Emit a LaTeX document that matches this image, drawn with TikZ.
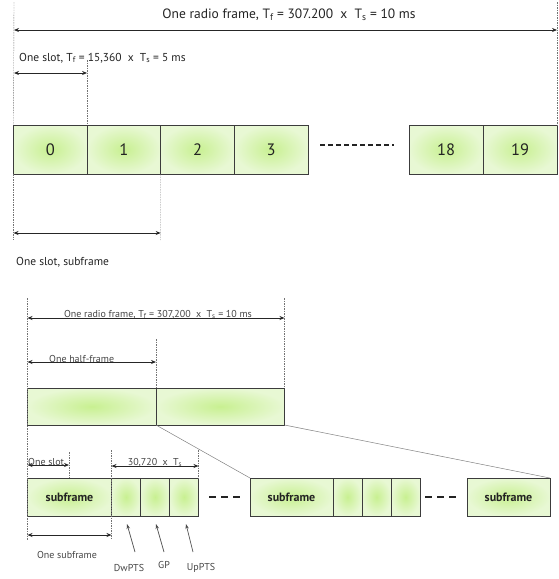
\documentclass[tikz,border=0pt]{standalone}
\usepackage{fontspec}
\setmainfont{PT Sans}
\usetikzlibrary{arrows.meta}

\definecolor{boxin}{RGB}{200,240,145}
\definecolor{boxout}{RGB}{232,248,212}
\definecolor{edge}{RGB}{60,60,60}
\definecolor{ink}{RGB}{35,35,35}
\definecolor{softink}{RGB}{70,70,70}

\tikzset{
  cell/.style={draw=edge, line width=0.7pt, inner color=boxin, outer color=boxout,
               inner sep=0pt, outer sep=0pt, anchor=north west, text=ink},
  span/.style={{Stealth[length=5pt,width=4pt]}-{Stealth[length=5pt,width=4pt]},
               line width=0.8pt, draw=black!85},
  guide/.style={line width=0.4pt, draw=black!55, dash pattern=on 1.5pt off 1pt},
  pointer/.style={-{Stealth[length=5pt,width=3.5pt]}, line width=0.7pt, draw=black!70},
  fold/.style={line width=0.5pt, draw=black!50},
  ellipsis/.style={draw=ink, line width=1.1pt, dash pattern=on 5pt off 3pt},
  bigellipsis/.style={draw=ink, line width=2pt, dash pattern=on 7pt off 5pt},
  title/.style={text=ink, font=\fontsize{13.5}{16}\selectfont, inner sep=1pt},
  label/.style={text=ink, font=\fontsize{11.5}{13}\selectfont, inner sep=1pt},
  small/.style={text=softink, font=\fontsize{10}{12}\selectfont, inner sep=1pt},
  num/.style={font=\fontsize{16.5}{18}\selectfont},
  sub/.style={font=\bfseries\fontsize{12}{14}\selectfont},
}

\begin{document}
\begin{tikzpicture}[x=1pt,y=-1pt]
\useasboundingbox (0,0) rectangle (558,579);

% ---------- upper diagram: twenty slots ----------
\node[cell, num, minimum width=73.6pt, minimum height=49pt] (s0) at (13.5,125) {0};
\node[cell, num, minimum width=73.6pt, minimum height=49pt] (s1) at (s0.north east) {1};
\node[cell, num, minimum width=73.6pt, minimum height=49pt] (s2) at (s1.north east) {2};
\node[cell, num, minimum width=73.6pt, minimum height=49pt] (s3) at (s2.north east) {3};
\node[cell, num, minimum width=74pt, minimum height=49pt] (s18) at (409,125) {18};
\node[cell, num, minimum width=74pt, minimum height=49pt] (s19) at (s18.north east) {19};

\coordinate (e1) at (320,145);
\coordinate (e2) at (394,145);
\draw[ellipsis] (e1) -- (e2);

% guide lines
\coordinate (gL) at (14,2);
\coordinate (gR) at (557,2);
\coordinate (gS) at (87.1,60);
\coordinate (gLb) at (13.5,240);
\coordinate (gMb) at (160.7,240);
\draw[guide] (gL) -- (s0.north west);
\draw[guide] (gR) -- (s19.north east);
\draw[guide] (gS) -- (s0.north east);
\draw[guide] (s0.south west) -- (gLb);
\draw[guide] (s1.south east) -- (gMb);

% spans
\coordinate (fA) at (14,30);
\coordinate (fB) at (557,30);
\draw[span] (fA) -- (fB);
\node[title] (ftxt) at (289,15) {One radio frame, T\textsubscript{f} = 307.200 \ x \ T\textsubscript{s} = 10 ms};

\coordinate (sA) at (14,73);
\coordinate (sB) at (87.1,73);
\draw[span] (sA) -- (sB);
\node[label, anchor=west] (stxt) at (18,58) {One slot, T\textsubscript{f} = 15,360 \ x \ T\textsubscript{s} = 5 ms};

\coordinate (bA) at (13.5,233);
\coordinate (bB) at (160.7,233);
\draw[span] (bA) -- (bB);
\node[label, anchor=west] (btxt) at (15,262) {One slot, subframe};

% ---------- lower diagram: half-frames and subframes ----------
\node[cell, minimum width=128.5pt, minimum height=37pt] (h1) at (27.5,388) {};
\node[cell, minimum width=128.5pt, minimum height=37pt] (h2) at (h1.north east) {};

\node[cell, sub, minimum width=84pt, minimum height=38pt] (f1) at (27.5,478) {subframe};
\node[cell, minimum width=29pt, minimum height=38pt] (p1) at (f1.north east) {};
\node[cell, minimum width=29pt, minimum height=38pt] (p2) at (p1.north east) {};
\node[cell, minimum width=29pt, minimum height=38pt] (p3) at (p2.north east) {};

\node[cell, sub, minimum width=83pt, minimum height=38pt] (f2) at (250,478) {subframe};
\node[cell, minimum width=29pt, minimum height=38pt] (q1) at (f2.north east) {};
\node[cell, minimum width=29pt, minimum height=38pt] (q2) at (q1.north east) {};
\node[cell, minimum width=29pt, minimum height=38pt] (q3) at (q2.north east) {};

\node[cell, sub, minimum width=83pt, minimum height=38pt] (f3) at (467,478) {subframe};

\coordinate (d1) at (209,497);
\coordinate (d2) at (241,497);
\coordinate (d3) at (425,497);
\coordinate (d4) at (457,497);
\draw[bigellipsis] (d1) -- (d2);
\draw[bigellipsis] (d3) -- (d4);

% expansion of the second half-frame
\draw[fold] (h1.south east) -- (f2.north west);
\draw[fold] (h2.south east) -- (f3.north east);

% guide lines
\coordinate (kL) at (27.5,298);
\coordinate (kR) at (284.5,298);
\coordinate (kM) at (156,339);
\coordinate (kLb) at (27.5,540);
\coordinate (kS) at (69,452);
\coordinate (kSb) at (69,478);
\coordinate (kP) at (111.5,450);
\coordinate (kPb) at (111.5,540);
\coordinate (kQ) at (198.5,450);
\draw[guide] (kL) -- (kLb);
\draw[guide] (kR) -- (h2.north east);
\draw[guide] (kM) -- (h1.north east);
\draw[guide] (kS) -- (kSb);
\draw[guide] (kP) -- (kPb);
\draw[guide] (kQ) -- (p3.north east);

% spans
\coordinate (rA) at (27.5,318);
\coordinate (rB) at (284.5,318);
\draw[span] (rA) -- (rB);
\node[small, anchor=south] (rtxt) at (158,320) {One radio frame, T\textsubscript{f} = 307,200 \ x \ T\textsubscript{s} = 10 ms};

\coordinate (hA) at (27.5,362);
\coordinate (hB) at (156,362);
\draw[span] (hA) -- (hB);
\node[small, anchor=south west] (htxt) at (48,364) {One half-frame};

\coordinate (oA) at (27.5,465);
\coordinate (oB) at (69,465);
\draw[span] (oA) -- (oB);
\node[small, anchor=south west] (otxt) at (27,467) {One slot};

\coordinate (tA) at (111.5,466);
\coordinate (tB) at (198.5,466);
\draw[span] (tA) -- (tB);
\node[small, anchor=south] (ttxt) at (155,468) {30,720 \ x \ T\textsubscript{s}};

\coordinate (uA) at (27.5,535);
\coordinate (uB) at (111.5,535);
\draw[span] (uA) -- (uB);
\node[small] (utxt) at (67,555) {One subframe};

% special-subframe fields
\node[small] (dw) at (129,568) {DwPTS};
\node[small] (gp) at (164,565) {GP};
\node[small] (up) at (201,568) {UpPTS};
\coordinate (dwT) at (135,552);
\coordinate (gpT) at (164,552);
\coordinate (upT) at (193,552);
\coordinate (dwH) at (127,524);
\coordinate (gpH) at (156,524);
\coordinate (upH) at (186,524);
\draw[pointer] (dwT) -- (dwH);
\draw[pointer] (gpT) -- (gpH);
\draw[pointer] (upT) -- (upH);
\end{tikzpicture}
\end{document}
